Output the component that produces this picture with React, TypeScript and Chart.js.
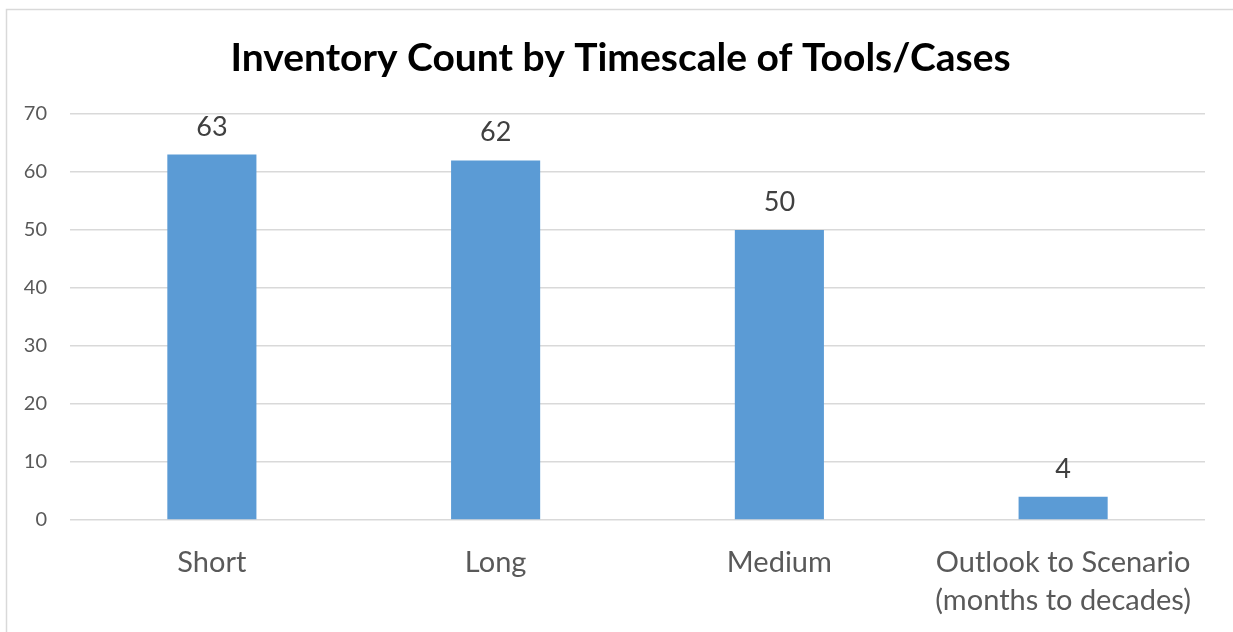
import React, { useEffect, useRef } from "react";
import { Chart, registerables } from "chart.js";

Chart.register(...registerables);

const TITLE = "Inventory Count by Timescale of Tools/Cases";
const categories: (string | string[])[] = [
  "Short",
  "Long",
  "Medium",
  ["Outlook to Scenario", "(months to decades)"],
];
const counts = [63, 62, 50, 4];
const yTicks = { min: 0, max: 70, step: 10 };

const FONT = "Lato, 'Open Sans', sans-serif";

export default function App() {
  const ref = useRef<HTMLCanvasElement | null>(null);
  useEffect(() => {
    if (!ref.current) return;
    const framePlugin = {
      id: "frame",
      beforeDraw(chart: any) {
        const ctx = chart.ctx;
        ctx.save();
        ctx.fillStyle = "#ffffff";
        ctx.fillRect(0, 0, chart.width, chart.height);
        ctx.strokeStyle = "#d9d9d9";
        ctx.lineWidth = 1.5;
        ctx.strokeRect(6.5, 9.5, 1400, 800);
        ctx.fillStyle = "#000000";
        ctx.font = `bold 39px ${FONT}`;
        ctx.textAlign = "center";
        ctx.textBaseline = "alphabetic";
        ctx.fillText(TITLE, 620.5, 70.5);
        ctx.restore();
      },
    };
    const labelPlugin = {
      id: "valueLabels",
      afterDatasetsDraw(chart: any) {
        const ctx = chart.ctx;
        const meta = chart.getDatasetMeta(0);
        ctx.save();
        ctx.font = `27px ${FONT}`;
        ctx.fillStyle = "#404040";
        ctx.textAlign = "center";
        ctx.textBaseline = "alphabetic";
        meta.data.forEach((el: any, i: number) => {
          ctx.fillText(String(chart.data.datasets[0].data[i]), el.x, el.y - 19);
        });
        ctx.restore();
      },
    };
    const chart = new Chart(ref.current, {
      type: "bar",
      data: {
        labels: categories,
        datasets: [
          {
            data: counts,
            backgroundColor: "#5B9BD5",
            categoryPercentage: 1,
            barPercentage: 0.314,
          },
        ],
      },
      plugins: [framePlugin, labelPlugin],
      options: {
        responsive: false,
        animation: false,
        layout: { padding: { left: 0, right: 28, top: 114, bottom: 0 } },
        plugins: {
          legend: { display: false },
          tooltip: { enabled: false },
          title: { display: false },
        },
        scales: {
          x: {
            grid: { display: false },
            border: { display: false },
            ticks: {
              color: "#595959",
              font: { family: FONT, size: 29, lineHeight: 1.31 },
              padding: 16,
              maxRotation: 0,
              autoSkip: false,
            },
            afterFit(scale: any) {
              scale.height = 112;
            },
          },
          y: {
            min: yTicks.min,
            max: yTicks.max,
            ticks: {
              stepSize: yTicks.step,
              color: "#595959",
              font: { family: FONT, size: 20 },
              padding: 23,
            },
            grid: { color: "#d9d9d9", lineWidth: 1.5, drawTicks: false },
            border: { display: false },
            afterFit(scale: any) {
              scale.width = 70;
            },
          },
        },
      },
    });
    return () => chart.destroy();
  }, []);
  return (
    <div style={{ position: "fixed", left: 0, top: 0, width: 1233, height: 632 }}>
      <canvas ref={ref} width={1233} height={632} />
    </div>
  );
}
